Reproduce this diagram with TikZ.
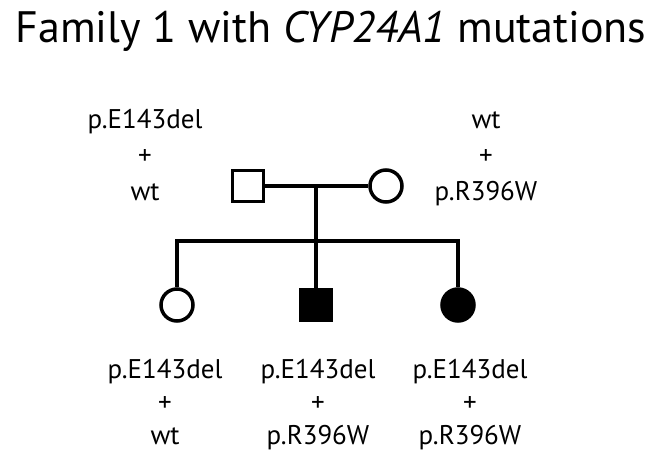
\documentclass[tikz,border=0pt]{standalone}
\usepackage{fontspec}
\setmainfont{PT Sans}
\begin{document}
\begin{tikzpicture}[x=1pt,y=-1pt]
       \tikzstyle{person} = [draw=black, line width=3.5pt, fill=white, inner sep=0pt];
       \tikzstyle{male} = [person, rectangle, minimum size=31pt];
       \tikzstyle{female} = [person, circle, minimum size=32pt];
       \tikzstyle{affected} = [fill=black];
       \tikzstyle{geno} = [align=center, font=\fontsize{27}{36}\selectfont];
       \tikzstyle{line} = [draw=black, line width=3.5pt, line join=miter];

       \useasboundingbox (0,0) rectangle (653,462);

       \node(title) at (331,31) {\fontsize{44}{52}\selectfont Family 1 with \textit{CYP24A1} mutations};

       \node[male](father) at (248,186) {};
       \node[female](mother) at (386,186) {};
       \node[female](daughter) at (177,305) {};
       \node[male, affected](son) at (316,305) {};
       \node[female, affected](sister) at (458,305) {};

       \coordinate(couple) at (316,186);
       \coordinate(sibs) at (316,241);

       \draw[line] (father) -- (mother);
       \draw[line] (couple) -- (sibs);
       \draw[line] (daughter.north) |- (sibs) -| (sister.north);
       \draw[line] (sibs) -- (son.north);

       \node[geno](gfather) at (145,157) {\strut p.E143del\\\strut +\\\strut wt};
       \node[geno](gmother) at (486,157) {\strut wt\\\strut +\\\strut p.R396W};
       \node[geno, font=\fontsize{27}{33}\selectfont](gdaughter) at (165,405) {\strut p.E143del\\\strut +\\\strut wt};
       \node[geno, font=\fontsize{27}{33}\selectfont](gson) at (318,405) {\strut p.E143del\\\strut +\\\strut p.R396W};
       \node[geno, font=\fontsize{27}{33}\selectfont](gsister) at (470,405) {\strut p.E143del\\\strut +\\\strut p.R396W};
\end{tikzpicture}
\end{document}
